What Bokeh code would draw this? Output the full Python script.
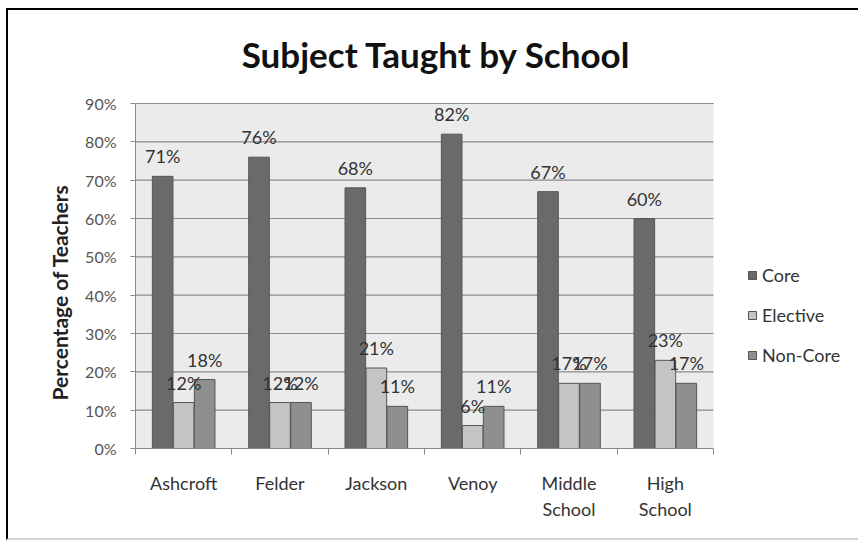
from bokeh.plotting import figure
from bokeh.models import (ColumnDataSource, FixedTicker, NumeralTickFormatter, Legend,
                          LegendItem, Label, Title, Range1d)
from bokeh.transform import dodge
from bokeh.core.properties import value
from bokeh.embed import file_html
from bokeh.resources import INLINE

# ---- data ----
schools = ["Ashcroft", "Felder", "Jackson", "Venoy", "Middle\nSchool", "High\nSchool"]
series = ["Core", "Elective", "Non-Core"]
core = [0.71, 0.76, 0.68, 0.82, 0.67, 0.60]
elective = [0.12, 0.12, 0.21, 0.06, 0.17, 0.23]
noncore = [0.18, 0.12, 0.11, 0.11, 0.17, 0.17]
y_ticks = [0.0, 0.1, 0.2, 0.3, 0.4, 0.5, 0.6, 0.7, 0.8, 0.9]
title_text = "Subject Taught by School"
y_label = "Percentage of Teachers"

colors = {"Core": "#6a6a6a", "Elective": "#c4c4c4", "Non-Core": "#8f8f8f"}
offsets = {"Core": -0.218, "Elective": 0.0, "Non-Core": 0.218}

n = len(schools)
ymax = y_ticks[-1]
centers = [i + 0.5 for i in range(n)]
src = ColumnDataSource(dict(
    x=centers,
    Core=core, Elective=elective, NonCore=noncore,
    Core_lbl=["%d%%" % round(v * 100) for v in core],
    Elective_lbl=["%d%%" % round(v * 100) for v in elective],
    NonCore_lbl=["%d%%" % round(v * 100) for v in noncore],
))
colkey = {"Core": "Core", "Elective": "Elective", "Non-Core": "NonCore"}

# canvas 852x532 placed at (8,10); plot area 578x345 px, extra room right/top
W, H = 852, 532
left_b, bottom_b = 127, 94
frame_w, frame_h = W - left_b, H - bottom_b
area_w, area_h = 578, 345
p = figure(width=W, height=H, output_backend="svg", toolbar_location=None,
           x_range=Range1d(0, n * frame_w / area_w),
           y_range=Range1d(0, ymax * frame_h / area_h),
           min_border_left=left_b, min_border_right=0, min_border_top=0,
           min_border_bottom=bottom_b)
p.margin = (8, 0, 0, 6)
p.styles = {"border-top": "2px solid black", "border-left": "2px solid black",
            "border-bottom": "2px solid #d4d4d4"}
p.background_fill_color = "white"
p.border_fill_color = "white"
p.outline_line_color = None

# plot-area background and grid lines
p.quad(left=0, right=n, bottom=0, top=ymax, fill_color="#ebebeb", line_color=None,
       level="image")
p.segment(x0=0, x1=n, y0=y_ticks[1:], y1=y_ticks[1:], line_color="#8c8c8c",
          line_width=1.2, level="underlay")
p.xgrid.visible = False
p.ygrid.visible = False

# bars
renderers = {}
for s in series:
    renderers[s] = p.vbar(x=dodge("x", offsets[s], range=p.x_range), top=colkey[s],
                          width=0.214, source=src, fill_color=colors[s],
                          line_color="#555555", line_width=1)

# value labels
for s in series:
    p.text(x=dodge("x", offsets[s], range=p.x_range), y=colkey[s], text=colkey[s] + "_lbl",
           source=src, text_align="center", text_baseline="alphabetic", y_offset=-20,
           text_font=value("Lato"), text_font_size="18px", text_color="#333333")

# axes
ya = p.yaxis[0]
ya.bounds = (0, ymax)
ya.ticker = FixedTicker(ticks=y_ticks)
ya.formatter = NumeralTickFormatter(format="0%")
ya.major_label_text_font = "Lato"
ya.major_label_text_font_size = "16px"
ya.major_label_text_color = "#555555"
ya.major_tick_out = 5
ya.major_tick_in = 0
ya.minor_tick_out = 0
ya.minor_tick_in = 0
ya.major_tick_line_color = "#8a8a8a"
ya.axis_line_color = "#8a8a8a"
ya.major_label_standoff = 14

xa = p.xaxis[0]
xa.bounds = (0, n)
xa.ticker = FixedTicker(ticks=centers, minor_ticks=list(range(n + 1)))
xa.major_label_overrides = {c: s for c, s in zip(centers, schools)}
xa.major_tick_out = 0
xa.major_tick_in = 0
xa.minor_tick_out = 6
xa.minor_tick_in = 0
xa.minor_tick_line_color = "#8a8a8a"
xa.axis_line_color = "#8a8a8a"
xa.major_label_text_font = "Lato"
xa.major_label_text_font_size = "18px"
xa.major_label_text_color = "#333333"
xa.major_label_text_line_height = 1.2
xa.major_label_standoff = 17

# y axis title (in the left panel, starting near the bottom of the plot area)
p.add_layout(Title(text=y_label, align="left", offset=48, standoff=22,
                   text_font="Lato", text_font_style="bold", text_font_size="21px",
                   text_color="#222222"), "left")

# chart title
p.add_layout(Label(x=n / 2, y=ymax, x_offset=12, y_offset=50, text=title_text,
                   text_align="center", text_baseline="alphabetic",
                   text_font="Lato", text_font_style="bold", text_font_size="35px",
                   text_color="#111111"))

# legend
legend = Legend(items=[LegendItem(label=s, renderers=[renderers[s]]) for s in series],
                location=(612, 82), glyph_width=10, glyph_height=10, label_standoff=5,
                spacing=18, padding=0, margin=0, border_line_alpha=0,
                background_fill_alpha=0, label_text_font="Lato",
                label_text_font_size="18px", label_text_color="#333333")
p.add_layout(legend)

open("out.html", "w").write(file_html(p, INLINE))
